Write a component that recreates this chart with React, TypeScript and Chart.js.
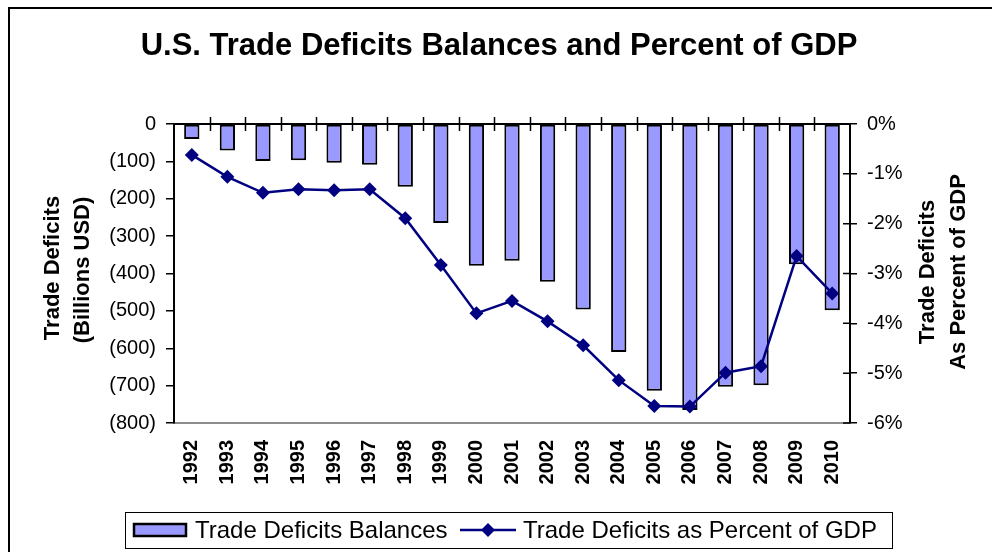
import React, { useEffect, useRef } from 'react';
import { Chart, registerables } from 'chart.js';

Chart.register(...registerables);

const years = ['1992', '1993', '1994', '1995', '1996', '1997', '1998', '1999', '2000', '2001', '2002', '2003', '2004', '2005', '2006', '2007', '2008', '2009', '2010'];
const balances = [-40, -71, -99, -97, -104, -109, -168, -265, -379, -366, -422, -496, -610, -714, -765, -703, -699, -375, -498];
const percentOfGDP = [-0.62, -1.06, -1.38, -1.31, -1.33, -1.31, -1.89, -2.83, -3.8, -3.55, -3.96, -4.44, -5.14, -5.66, -5.67, -4.99, -4.86, -2.65, -3.4];

const titleText = 'U.S. Trade Deficits Balances and Percent of GDP';
const leftTitle = ['Trade Deficits', '(Billions USD)'];
const rightTitle = ['Trade Deficits', 'As Percent of GDP'];
const seriesNames = ['Trade Deficits Balances', 'Trade Deficits as Percent of GDP'];

const FONT = '"Liberation Sans", Arial, Helvetica, sans-serif';
const BAR_FILL = '#9999FF';
const LINE_COLOR = '#000080';

function drawRotated(ctx: CanvasRenderingContext2D, text: string, x: number, y: number) {
  ctx.save();
  ctx.translate(x, y);
  ctx.rotate(-Math.PI / 2);
  ctx.textAlign = 'center';
  ctx.textBaseline = 'middle';
  ctx.fillText(text, 0, 0);
  ctx.restore();
}

function diamond(ctx: CanvasRenderingContext2D, x: number, y: number, r: number) {
  ctx.beginPath();
  ctx.moveTo(x, y - r);
  ctx.lineTo(x + r, y);
  ctx.lineTo(x, y + r);
  ctx.lineTo(x - r, y);
  ctx.closePath();
  ctx.fill();
}

const decorPlugin = {
  id: 'decor',
  afterDatasetsDraw(chart: any) {
    const { ctx, chartArea, scales } = chart;
    const x = scales.x;
    const y = scales.y;
    const y1 = scales.y1;
    const zeroY = y.getPixelForValue(0);
    ctx.save();
    ctx.strokeStyle = '#000';
    ctx.lineWidth = 2;
    ctx.beginPath();
    ctx.moveTo(chartArea.left, zeroY);
    ctx.lineTo(chartArea.right, zeroY);
    ctx.stroke();
    ctx.lineWidth = 1.5;
    ctx.beginPath();
    for (let i = 1; i < years.length; i++) {
      const px = Math.round((x.getPixelForValue(i - 1) + x.getPixelForValue(i)) / 2) + 0.5;
      ctx.moveTo(px, zeroY - 7);
      ctx.lineTo(px, zeroY + 7);
    }
    y1.ticks.forEach((t: any) => {
      const py = y1.getPixelForValue(t.value);
      ctx.moveTo(chartArea.right - 7, py);
      ctx.lineTo(chartArea.right, py);
    });
    ctx.stroke();
    ctx.restore();
  },
  afterDraw(chart: any) {
    const { ctx } = chart;
    ctx.save();
    // outer frame
    ctx.strokeStyle = '#000';
    ctx.lineWidth = 2;
    ctx.beginPath();
    ctx.moveTo(9, 552);
    ctx.lineTo(9, 8);
    ctx.lineTo(992, 8);
    ctx.stroke();

    // title
    ctx.fillStyle = '#000';
    ctx.font = `bold 31px ${FONT}`;
    ctx.textAlign = 'center';
    ctx.textBaseline = 'alphabetic';
    ctx.fillText(titleText, 499, 55);

    // axis titles
    ctx.font = `bold 22px ${FONT}`;
    drawRotated(ctx, leftTitle[0], 53, 268);
    drawRotated(ctx, leftTitle[1], 83, 270);
    drawRotated(ctx, rightTitle[0], 928, 272);
    drawRotated(ctx, rightTitle[1], 959, 272);

    // legend
    ctx.lineWidth = 1;
    ctx.strokeStyle = '#000';
    ctx.strokeRect(125.5, 512.5, 767, 36);
    ctx.fillStyle = BAR_FILL;
    ctx.fillRect(134, 524, 52, 12);
    ctx.lineWidth = 2.5;
    ctx.strokeRect(134, 524, 52, 12);
    ctx.fillStyle = '#000';
    ctx.font = `24px ${FONT}`;
    ctx.textAlign = 'left';
    ctx.textBaseline = 'middle';
    ctx.fillText(seriesNames[0], 195, 531);
    ctx.strokeStyle = LINE_COLOR;
    ctx.lineWidth = 2.5;
    ctx.beginPath();
    ctx.moveTo(460, 530);
    ctx.lineTo(516, 530);
    ctx.stroke();
    ctx.fillStyle = LINE_COLOR;
    diamond(ctx, 488, 530, 7);
    ctx.fillStyle = '#000';
    ctx.fillText(seriesNames[1], 523, 531);
    ctx.restore();
  },
};

export default function App() {
  const ref = useRef<HTMLCanvasElement | null>(null);
  useEffect(() => {
    document.body.style.margin = '0';
    const canvas = ref.current;
    if (!canvas) return;
    const chart = new Chart(canvas, {
      type: 'bar',
      data: {
        labels: years,
        datasets: [
          {
            type: 'line',
            label: seriesNames[1],
            data: percentOfGDP,
            yAxisID: 'y1',
            borderColor: LINE_COLOR,
            backgroundColor: LINE_COLOR,
            borderWidth: 2.5,
            pointStyle: 'rectRot',
            pointRadius: 7,
            pointBorderWidth: 0,
            tension: 0,
            order: 0,
          } as any,
          {
            type: 'bar',
            label: seriesNames[0],
            data: balances,
            yAxisID: 'y',
            backgroundColor: BAR_FILL,
            borderColor: '#000',
            borderWidth: 2,
            borderSkipped: false,
            barPercentage: 0.43,
            categoryPercentage: 1,
            order: 1,
          } as any,
        ],
      },
      options: {
        animation: false,
        responsive: false,
        devicePixelRatio: 1,
        layout: { padding: { top: 124, left: 0, right: 0, bottom: 0 } },
        plugins: {
          legend: { display: false },
          title: { display: false },
          tooltip: { enabled: false },
        },
        scales: {
          x: {
            type: 'category',
            offset: true,
            grid: { display: false, drawTicks: false },
            border: { display: true, color: '#8c8c8c', width: 2 },
            ticks: {
              color: '#000',
              font: { family: FONT, size: 20, weight: 'bold' },
              maxRotation: 90,
              minRotation: 90,
              autoSkip: false,
              padding: 17,
            },
            afterFit: (s: any) => {
              s.height = 129;
            },
          },
          y: {
            position: 'left',
            min: -800,
            max: 0,
            grid: { drawOnChartArea: false, drawTicks: true, tickLength: 8, color: '#000', lineWidth: 1.5 },
            border: { display: true, color: '#000', width: 2 },
            ticks: {
              stepSize: 100,
              color: '#000',
              padding: 10,
              font: { family: FONT, size: 20 },
              callback: (v: any) => (Number(v) === 0 ? '0' : `(${Math.abs(Number(v))})`),
            },
            afterFit: (s: any) => {
              s.width = 174;
            },
          },
          y1: {
            position: 'right',
            min: -6,
            max: 0,
            grid: { drawOnChartArea: false, drawTicks: true, tickLength: 7, color: '#000', lineWidth: 1.5 },
            border: { display: true, color: '#000', width: 2 },
            ticks: {
              stepSize: 1,
              color: '#000',
              padding: 10,
              font: { family: FONT, size: 20 },
              callback: (v: any) => `${Number(v)}%`,
            },
            afterFit: (s: any) => {
              s.width = 142;
            },
          },
        },
      },
      plugins: [decorPlugin],
    } as any);
    return () => chart.destroy();
  }, []);
  return (
    <div style={{ width: 992, height: 552, position: 'relative', background: '#fff' }}>
      <canvas ref={ref} width={992} height={552} />
    </div>
  );
}
